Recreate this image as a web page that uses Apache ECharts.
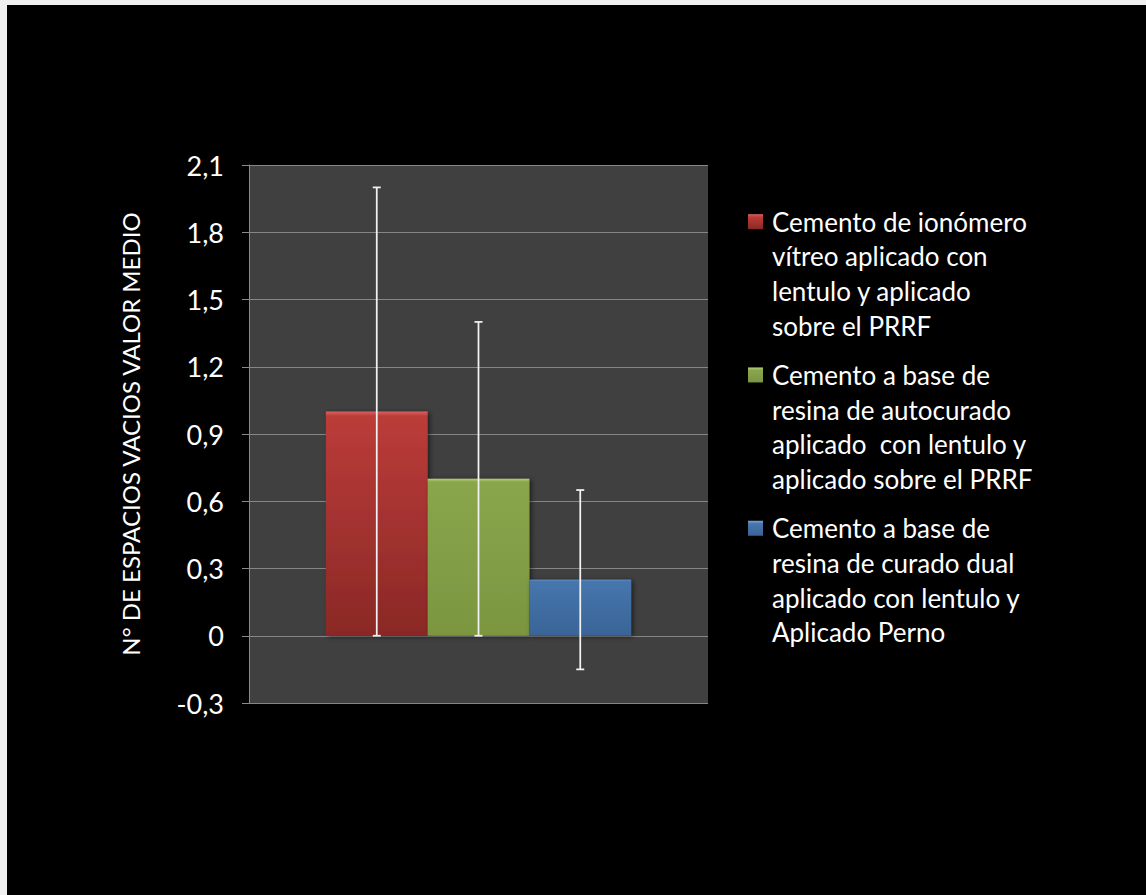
<!DOCTYPE html>
<html>
<head>
<meta charset="utf-8">
<script src="https://cdn.jsdelivr.net/npm/echarts@6/dist/echarts.min.js"></script>
<style>
  html, body { margin: 0; padding: 0; width: 1146px; height: 895px; overflow: hidden; background: #f0f0f0; }
  #chart { position: absolute; left: 7px; top: 5px; width: 1139px; height: 890px; background: #000; }
</style>
</head>
<body>
<div id="chart"></div>
<script>
// Single category, three cement groups shown side by side
const categories = [''];
const seriesNames = [
  'Cemento de ionómero vítreo aplicado con lentulo y aplicado sobre el PRRF',
  'Cemento a base de resina de autocurado aplicado con lentulo y aplicado sobre el PRRF',
  'Cemento a base de resina de curado dual aplicado con lentulo y Aplicado Perno'
];
const legendLines = [
  ['Cemento de ionómero', 'vítreo aplicado con', 'lentulo y aplicado', 'sobre el PRRF'],
  ['Cemento a base de', 'resina de autocurado', 'aplicado  con lentulo y', 'aplicado sobre el PRRF'],
  ['Cemento a base de', 'resina de curado dual', 'aplicado con lentulo y', 'Aplicado Perno']
];
// Mean number of voids and the spread shown by the error bars
const meanValues = [1.0, 0.7, 0.25];
const errorValues = [1.0, 0.7, 0.4];
// Value axis range and tick step
const yMin = -0.3;
const yMax = 2.1;
const yStep = 0.3;
const yAxisTitle = 'N° DE ESPACIOS VACIOS VALOR MEDIO';

const palette = [
  { hi: '#d9625d', top: '#bb3c39', bottom: '#8a2826' },
  { hi: '#b3cf78', top: '#89a64c', bottom: '#7a9640' },
  { hi: '#7ba7da', top: '#4676ad', bottom: '#3a6497' }
];

const FONT = 'Lato, "Open Sans", sans-serif';
const GAP = 0.335;

function barFill(p) {
  return new echarts.graphic.LinearGradient(0, 0, 0, 1, [
    { offset: 0, color: p.hi },
    { offset: 0.02, color: p.top },
    { offset: 1, color: p.bottom }
  ]);
}

const barSeries = seriesNames.map((name, i) => ({
  name,
  type: 'bar',
  data: [meanValues[i]],
  barGap: '0%',
  barCategoryGap: (GAP * 100) + '%',
  itemStyle: {
    color: barFill(palette[i]),
    shadowColor: 'rgba(0,0,0,0.55)',
    shadowBlur: 5,
    shadowOffsetX: 2,
    shadowOffsetY: 1
  },
  z: 2
}));

const errorData = meanValues.map((v, i) => [0, v - errorValues[i], v + errorValues[i], i]);

const errorSeries = {
  type: 'custom',
  name: 'error',
  data: errorData,
  encode: { x: 0, y: [1, 2] },
  z: 5,
  silent: true,
  renderItem(params, api) {
    const idx = api.value(3);
    const cat = api.value(0);
    const band = api.size([1, 0])[0];
    const bw = band * (1 - GAP) / seriesNames.length;
    const cx = api.coord([cat, 0])[0] + (idx - (seriesNames.length - 1) / 2) * bw;
    const yLow = api.coord([cat, api.value(1)])[1];
    const yHigh = api.coord([cat, api.value(2)])[1];
    const cap = 4;
    const style = { stroke: '#f2f2f2', lineWidth: 1.75 };
    return {
      type: 'group',
      children: [
        { type: 'line', shape: { x1: cx, y1: yLow, x2: cx, y2: yHigh }, style },
        { type: 'line', shape: { x1: cx - cap, y1: yHigh, x2: cx + cap, y2: yHigh }, style },
        { type: 'line', shape: { x1: cx - cap, y1: yLow, x2: cx + cap, y2: yLow }, style }
      ]
    };
  }
};

// Legend: square key + wrapped label for each group
const LINE_H = 34.7;
const ITEM_GAP = 14.5;
const legendTop = 199.3;
const legendGraphics = [];
let y = legendTop;
legendLines.forEach((lines, i) => {
  const p = palette[i];
  legendGraphics.push({
    type: 'rect',
    left: 741,
    top: y + LINE_H / 2 - 7.5,
    shape: { width: 15, height: 15 },
    style: {
      fill: new echarts.graphic.LinearGradient(0, 0, 0, 1, [
        { offset: 0, color: p.hi },
        { offset: 0.2, color: p.top },
        { offset: 1, color: p.bottom }
      ])
    }
  });
  legendGraphics.push({
    type: 'text',
    left: 765,
    top: y,
    style: {
      text: lines.join('\n'),
      fill: '#ffffff',
      font: '26px ' + FONT,
      lineHeight: LINE_H
    }
  });
  y += lines.length * LINE_H + ITEM_GAP;
});

const chart = echarts.init(document.getElementById('chart'), null, { renderer: 'svg' });
chart.setOption({
  backgroundColor: '#000000',
  animation: false,
  textStyle: { fontFamily: FONT },
  grid: {
    left: 242, right: 438, top: 160, bottom: 192,
    show: true, backgroundColor: '#404040', borderWidth: 0
  },
  xAxis: {
    type: 'category',
    data: categories,
    axisLine: { show: false },
    axisTick: { show: false },
    axisLabel: { show: false },
    splitLine: { show: false }
  },
  yAxis: {
    type: 'value',
    min: yMin,
    max: yMax,
    interval: yStep,
    name: yAxisTitle,
    nameLocation: 'middle',
    nameRotate: 90,
    nameGap: 107,
    nameTextStyle: { color: '#ffffff', fontSize: 24, fontFamily: FONT },
    axisLine: { show: true, lineStyle: { color: '#8a8a8a', width: 1 } },
    axisTick: { show: true, inside: false, length: 7, lineStyle: { color: '#8a8a8a' } },
    axisLabel: {
      color: '#ffffff',
      fontSize: 27,
      fontFamily: FONT,
      margin: 25,
      formatter: v => String(Math.round(v * 10) / 10).replace('.', ',')
    },
    splitLine: { show: true, lineStyle: { color: '#868686', width: 1 } }
  },
  series: [...barSeries, errorSeries],
  graphic: legendGraphics
});
</script>
</body>
</html>
